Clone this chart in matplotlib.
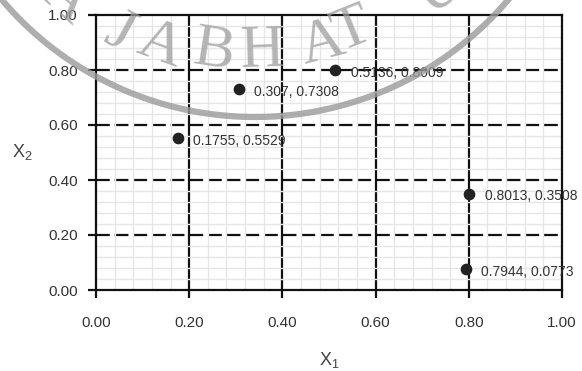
import numpy as np
import matplotlib
matplotlib.use("Agg")
from matplotlib import pyplot as plt

# Data
x1 = [0.1755, 0.307, 0.5136, 0.8013, 0.7944]
x2 = [0.5529, 0.7308, 0.8009, 0.3508, 0.0773]
point_labels = ["0.1755, 0.5529", "0.307, 0.7308", "0.5136, 0.8009",
                "0.8013, 0.3508", "0.7944, 0.0773"]
major_ticks = [0.0, 0.2, 0.4, 0.6, 0.8, 1.0]
tick_labels = ["0.00", "0.20", "0.40", "0.60", "0.80", "1.00"]

# watermark letters, angle on the arc (deg) and radius (px)
wm_letters = ["A", "J", "A", "B", "H", "A", "T", "U"]
wm_angles = [-41.5, -28.7, -20, -8.9, 1.5, 14.5, 21.8, 42]
wm_radius = [287, 283, 277, 270, 267, 268, 264, 276]

plt.rcParams['font.family'] = ['Liberation Sans', 'DejaVu Sans']

W, H = 582, 371
fig = plt.figure(figsize=(W / 100, H / 100), dpi=100)
ax = fig.add_axes([96 / W, 1 - 290 / H, 466 / W, 275 / H])

ax.set_xlim(0, 1)
ax.set_ylim(0, 1)

# minor grid
minor = np.arange(0, 1.0001, 0.04)
ax.set_xticks(minor, minor=True)
ax.set_yticks(minor, minor=True)
ax.grid(which='minor', color='#e6e6e6', linewidth=1.0, zorder=0)
ax.tick_params(which='minor', length=0)

# major grid: solid verticals, dashed horizontals
for v in major_ticks[1:-1]:
    ax.axvline(v, color='#111111', linewidth=1.6, zorder=1)
    ax.axhline(v, color='#111111', linewidth=1.6, linestyle=(0, (6.2, 2.2)), zorder=1)

ax.set_xticks(major_ticks)
ax.set_yticks(major_ticks)
ax.set_xticklabels(tick_labels)
ax.set_yticklabels(tick_labels)
ax.tick_params(which='major', direction='out', length=6, width=1.6,
               color='#111111', labelsize=11, labelcolor='#333333')
ax.tick_params(axis='x', pad=13)
ax.tick_params(axis='y', pad=7)
for s in ax.spines.values():
    s.set_color('#111111')
    s.set_linewidth(1.6)

ax.scatter(x1, x2, s=55, color='#222222', zorder=5, clip_on=False)
for xx, yy, lbl in zip(x1, x2, point_labels):
    ax.annotate(lbl, (xx, yy), xytext=(11, -2), textcoords='offset points',
                ha='left', va='center', fontsize=10, color='#333333',
                annotation_clip=False)

ax.set_xlabel(r'$\mathregular{X_1}$', fontsize=13, color='#444444', labelpad=14)
ax.set_ylabel(r'$\mathregular{X_2}$', fontsize=13, color='#444444',
              rotation=0, labelpad=19, va='center')

# watermark: arc + letters, image pixels (y down) -> figure fraction
cx, cy, R = 255, -215, 332
t = np.deg2rad(np.linspace(-70, 70, 300))
arc_x = cx + R * np.sin(t)
arc_y = cy + R * np.cos(t)
fig.add_artist(plt.Line2D(arc_x / W, 1 - arc_y / H, transform=fig.transFigure,
                          color='#9a9a9a', alpha=0.8, linewidth=4.5, zorder=20))
for ch, ang, r in zip(wm_letters, wm_angles, wm_radius):
    a = np.deg2rad(ang)
    px = cx + r * np.sin(a)
    py = cy + r * np.cos(a)
    fig.text(px / W, 1 - py / H, ch, fontsize=44, family='Liberation Serif',
             color='#9c9c9c', alpha=0.75, rotation=ang,
             ha='center', va='center', rotation_mode='anchor', zorder=20)

fig.savefig("out.png", dpi=100)
